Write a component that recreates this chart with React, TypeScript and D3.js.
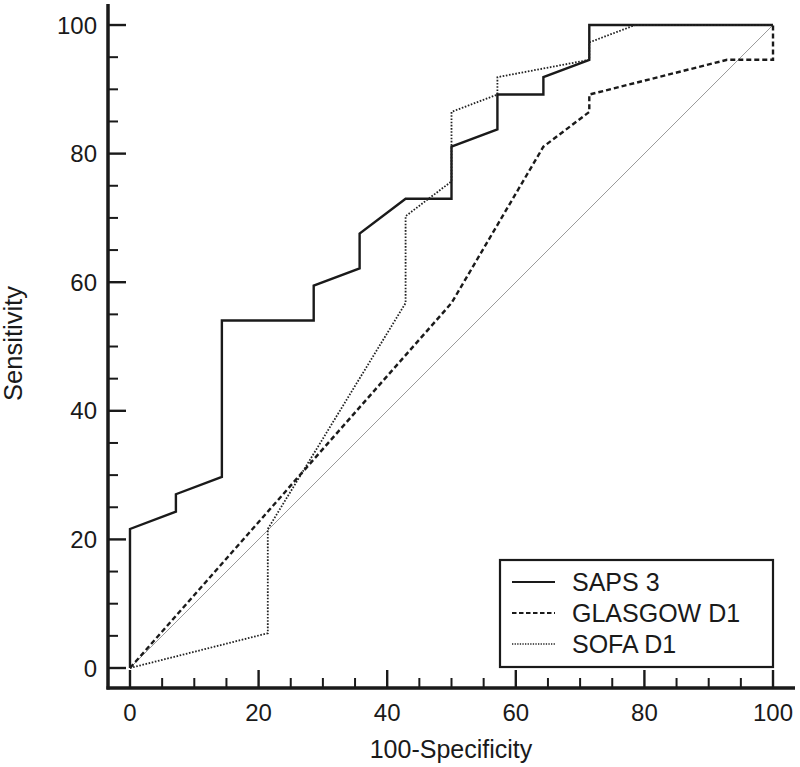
import React from "react";
import * as d3 from "d3";

const sapsX = [0, 0, 7.14, 7.14, 14.29, 14.29, 28.57, 28.57, 35.71, 35.71, 42.86, 50, 50, 57.14, 57.14, 64.29, 64.29, 71.43, 71.43, 100];
const sapsY = [0, 21.62, 24.32, 27.03, 29.73, 54.05, 54.05, 59.46, 62.16, 67.57, 72.97, 72.97, 81.08, 83.78, 89.19, 89.19, 91.89, 94.59, 100, 100];

const glasgowX = [0, 50, 64.29, 71.43, 71.43, 92.86, 100, 100];
const glasgowY = [0, 56.76, 81.08, 86.49, 89.19, 94.59, 94.59, 100];

const sofaX = [0, 21.43, 21.43, 42.86, 42.86, 50, 50, 57.14, 57.14, 71.43, 71.43, 78.57, 100];
const sofaY = [0, 5.41, 21.62, 56.76, 70.27, 75.68, 86.49, 89.19, 91.89, 94.59, 97.3, 100, 100];

const seriesNames = ["SAPS 3", "GLASGOW D1", "SOFA D1"];
const majorTicks = [0, 20, 40, 60, 80, 100];
const minorTicks = [5, 10, 15, 25, 30, 35, 45, 50, 55, 65, 70, 75, 85, 90, 95];

const xTitle = "100-Specificity";
const yTitle = "Sensitivity";

const W = 800;
const H = 767;
const FONT = "'Liberation Sans', Arial, sans-serif";
const INK = "#1a1a1a";

export default function App() {
  const x = d3.scaleLinear().domain([-3.42, 103.42]).range([108, 795]);
  const y = d3.scaleLinear().domain([-3.11, 103.27]).range([688, 4]);
  const x0 = x(-3.42);
  const y0 = y(-3.11);

  const line = d3
    .line<[number, number]>()
    .x((d) => x(d[0]))
    .y((d) => y(d[1]));

  const zip = (a: number[], b: number[]) => a.map((v, i) => [v, b[i]] as [number, number]);

  const styles = [
    { dash: "none", width: 2.4, color: INK },
    { dash: "5,3", width: 2.4, color: INK },
    { dash: "1.6,1.6", width: 1.8, color: "#222" },
  ];
  const seriesData = [zip(sapsX, sapsY), zip(glasgowX, glasgowY), zip(sofaX, sofaY)];

  const MAJ = 18;
  const MIN = 10;

  return (
    <svg
      width={W}
      height={H}
      style={{ position: "absolute", left: 0, top: 0, background: "#fff" }}
      fontFamily={FONT}
    >
      <rect x={0} y={0} width={W} height={H} fill="#fff" />
      {/* diagonal reference */}
      <path d={line([[0, 0], [100, 100]]) || ""} stroke="#9a9a9a" strokeWidth={1} fill="none" />

      {/* curves */}
      {seriesData.map((d, i) => (
        <path
          key={i}
          d={line(d) || ""}
          fill="none"
          stroke={styles[i].color}
          strokeWidth={styles[i].width}
          strokeDasharray={styles[i].dash}
          strokeLinejoin="miter"
        />
      ))}

      {/* axes */}
      <line x1={x0} x2={x0} y1={y(103.27)} y2={y0 + 1.5} stroke={INK} strokeWidth={3.5} />
      <line x1={x0 - 1.5} x2={x(103.42)} y1={y0} y2={y0} stroke={INK} strokeWidth={3.5} />

      {majorTicks.map((t) => (
        <g key={"xm" + t}>
          <line x1={x(t)} x2={x(t)} y1={y0} y2={y0 - MAJ} stroke={INK} strokeWidth={2.4} />
          <text x={x(t)} y={721} textAnchor="middle" fontSize={24} fill={INK}>
            {t}
          </text>
          <line x1={x0} x2={x0 + MAJ} y1={y(t)} y2={y(t)} stroke={INK} strokeWidth={2.4} />
          <text x={97} y={y(t)} dy="0.36em" textAnchor="end" fontSize={24} fill={INK}>
            {t}
          </text>
        </g>
      ))}
      {minorTicks.map((t) => (
        <g key={"xn" + t}>
          <line x1={x(t)} x2={x(t)} y1={y0} y2={y0 - MIN} stroke={INK} strokeWidth={2} />
          <line x1={x0} x2={x0 + MIN} y1={y(t)} y2={y(t)} stroke={INK} strokeWidth={2} />
        </g>
      ))}

      {/* axis titles */}
      <text x={451} y={758} textAnchor="middle" fontSize={25} fill={INK}>
        {xTitle}
      </text>
      <text
        transform={`translate(22, ${343.5}) rotate(-90)`}
        textAnchor="middle"
        fontSize={25.5}
        fill={INK}
      >
        {yTitle}
      </text>

      {/* legend */}
      <rect x={500} y={560} width={273} height={107} fill="#fff" stroke={INK} strokeWidth={2.2} />
      {seriesNames.map((name, i) => {
        const cy = 582 + i * 31;
        return (
          <g key={name}>
            <line
              x1={512}
              x2={555}
              y1={cy}
              y2={cy}
              stroke={styles[i].color}
              strokeWidth={i === 2 ? 1.4 : 1.8}
              strokeDasharray={i === 1 ? "4.5,2.5" : i === 2 ? "1.3,1.3" : "none"}
            />
            <text x={572} y={cy + 8.5} fontSize={25} fill={INK}>
              {name}
            </text>
          </g>
        );
      })}
    </svg>
  );
}
